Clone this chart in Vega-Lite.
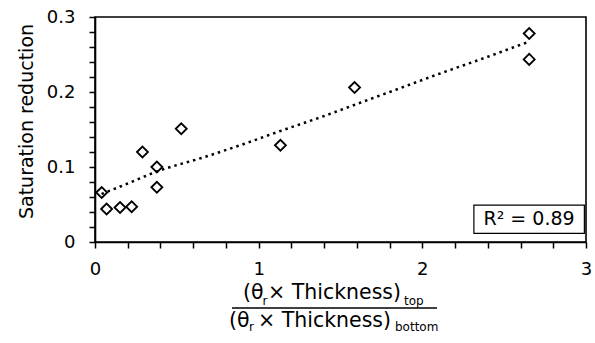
{
  "$schema": "https://vega.github.io/schema/vega-lite/v6.json",
  "width": 491,
  "height": 225,
  "autosize": {"type": "none"},
  "padding": {"left": 95, "top": 17, "right": 9, "bottom": 101},
  "background": "white",
  "config": {
    "font": "DejaVu Sans",
    "view": {"stroke": "black", "strokeWidth": 1.6},
    "axis": {
      "domainColor": "black", "domainWidth": 1.6,
      "tickColor": "black", "tickWidth": 1.5, "tickSize": 6,
      "labelColor": "black", "labelFont": "DejaVu Sans", "labelFontSize": 18,
      "titleColor": "black", "titleFont": "DejaVu Sans", "titleFontWeight": "normal",
      "grid": false, "labelOverlap": false, "labelBound": false, "labelFlush": false
    }
  },
  "datasets": {
    "points": [
      {"ratio": 0.041, "reduction": 0.066},
      {"ratio": 0.071, "reduction": 0.044},
      {"ratio": 0.153, "reduction": 0.046},
      {"ratio": 0.224, "reduction": 0.047},
      {"ratio": 0.290, "reduction": 0.120},
      {"ratio": 0.378, "reduction": 0.100},
      {"ratio": 0.378, "reduction": 0.073},
      {"ratio": 0.527, "reduction": 0.151},
      {"ratio": 1.133, "reduction": 0.129},
      {"ratio": 1.586, "reduction": 0.206},
      {"ratio": 2.653, "reduction": 0.278},
      {"ratio": 2.653, "reduction": 0.2435}
    ],
    "trend": [
      {"ratio": 0.04, "fit": 0.064},
      {"ratio": 0.2, "fit": 0.078},
      {"ratio": 0.378, "fit": 0.094},
      {"ratio": 0.65, "fit": 0.112},
      {"ratio": 0.9, "fit": 0.130},
      {"ratio": 1.133, "fit": 0.148},
      {"ratio": 1.4, "fit": 0.168},
      {"ratio": 1.6, "fit": 0.184},
      {"ratio": 1.9, "fit": 0.208},
      {"ratio": 2.1, "fit": 0.224},
      {"ratio": 2.4, "fit": 0.247},
      {"ratio": 2.65, "fit": 0.267}
    ]
  },
  "layer": [
    {
      "data": {"name": "trend"},
      "mark": {"type": "line", "color": "black", "strokeWidth": 2.5, "strokeDash": [2.5, 4], "interpolate": "monotone"},
      "encoding": {
        "x": {
          "field": "ratio", "type": "quantitative",
          "scale": {"domain": [0, 3], "nice": false, "zero": false},
          "axis": {
            "values": [0, 0.2, 0.4, 0.6, 0.8, 1, 1.2, 1.4, 1.6, 1.8, 2, 2.2, 2.4, 2.6, 2.8, 3],
            "tickCount": 100,
            "labelExpr": "abs(datum.value - round(datum.value)) < 0.001 ? format(datum.value, 'd') : ''",
            "labelPadding": 12,
            "title": null
          }
        },
        "y": {
          "field": "fit", "type": "quantitative",
          "scale": {"domain": [0, 0.3], "nice": false, "zero": false},
          "axis": {
            "values": [0, 0.02, 0.04, 0.06, 0.08, 0.1, 0.12, 0.14, 0.16, 0.18, 0.2, 0.22, 0.24, 0.26, 0.28, 0.3],
            "tickCount": 100,
            "labelExpr": "abs(datum.value*10 - round(datum.value*10)) < 0.001 ? format(datum.value, '.1~f') : ''",
            "labelPadding": 14,
            "title": "Saturation reduction",
            "titleFontSize": 19,
            "titlePadding": 10,
            "titleY": 104
          }
        }
      }
    },
    {
      "data": {"name": "points"},
      "mark": {"type": "point", "shape": "diamond", "filled": false, "color": "black", "strokeWidth": 1.8, "size": 121, "opacity": 1},
      "encoding": {
        "x": {"field": "ratio", "type": "quantitative"},
        "y": {"field": "reduction", "type": "quantitative"}
      }
    },
    {
      "data": {"values": [{"label": "R² = 0.89"}]},
      "layer": [
        {
          "mark": {"type": "rect", "fill": "white", "stroke": "black", "strokeWidth": 1.2},
          "encoding": {
            "x": {"datum": 2.315}, "x2": {"datum": 2.99},
            "y": {"datum": 0.0116}, "y2": {"datum": 0.0493}
          }
        },
        {
          "mark": {"type": "text", "fontSize": 19, "align": "center", "baseline": "middle", "color": "black"},
          "encoding": {
            "x": {"datum": 2.652}, "y": {"datum": 0.0305},
            "text": {"field": "label"}
          }
        }
      ]
    },
    {
      "data": {"values": [
        {"part": "(θ", "px": 0.9043, "py": -0.0756, "sub": "no"},
        {"part": "r", "px": 1.0234, "py": -0.0836, "sub": "yes"},
        {"part": "× Thickness)", "px": 1.057, "py": -0.0756, "sub": "no"},
        {"part": "top", "px": 1.888, "py": -0.0836, "sub": "yes"},
        {"part": "(θ", "px": 0.8187, "py": -0.1137, "sub": "no"},
        {"part": "r", "px": 0.9409, "py": -0.1191, "sub": "yes"},
        {"part": "× Thickness)", "px": 0.9959, "py": -0.1137, "sub": "no"},
        {"part": "bottom", "px": 1.833, "py": -0.1191, "sub": "yes"}
      ]},
      "mark": {"type": "text", "align": "left", "baseline": "alphabetic", "color": "black"},
      "encoding": {
        "x": {"field": "px", "type": "quantitative"},
        "y": {"field": "py", "type": "quantitative"},
        "text": {"field": "part"},
        "size": {"field": "sub", "type": "nominal", "scale": {"domain": ["no", "yes"], "range": [20.5, 12]}, "legend": null}
      }
    },
    {
      "data": {"values": [{}]},
      "mark": {"type": "rule", "color": "black", "strokeWidth": 1.5},
      "encoding": {
        "x": {"datum": 0.837}, "x2": {"datum": 2.0896},
        "y": {"datum": -0.088}
      }
    }
  ]
}
